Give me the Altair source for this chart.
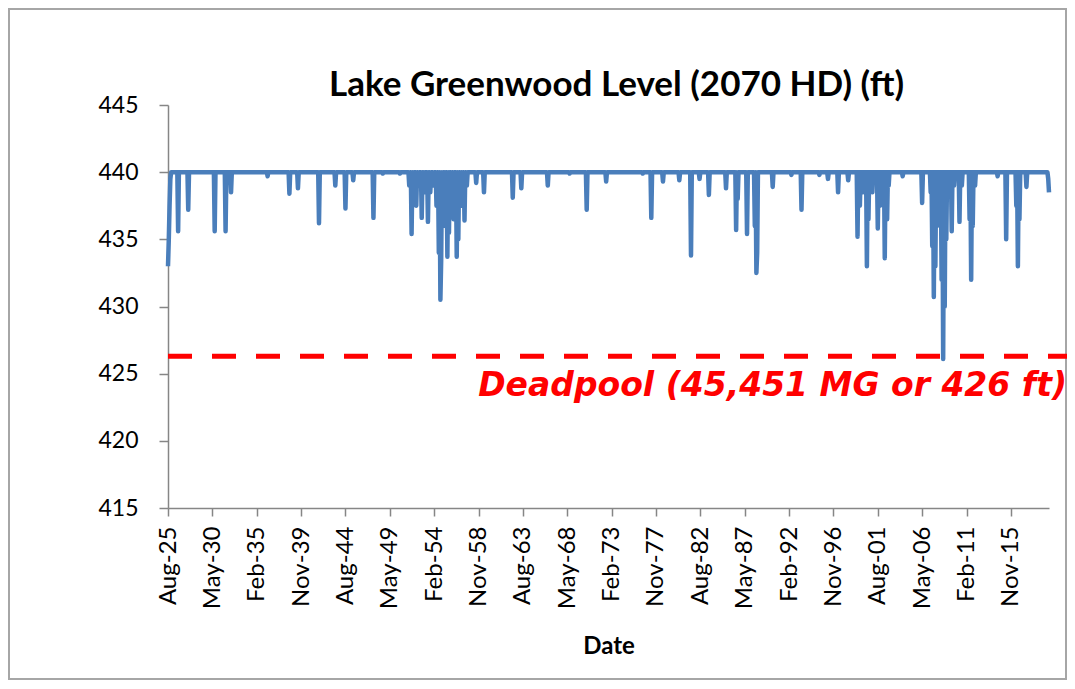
import altair as alt
import pandas as pd

# ---------------- data ----------------
start_month = "1925-08"
end_month = "2019-12"
full_pool = 440.0          # level when the lake is full (flat line)

# months where the level is below full pool, and their levels (ft)
low_months = [
    "1925-08", "1925-09", "1925-10", "1925-11", "1926-09", "1927-10",
    "1930-08", "1931-10", "1932-05", "1936-04", "1938-08", "1939-07",
    "1941-10", "1943-07", "1944-08", "1945-06", "1947-08", "1948-08",
    "1950-06", "1951-06", "1951-09", "1951-11", "1952-03", "1952-06",
    "1952-10", "1953-01", "1953-06", "1953-09", "1954-01", "1954-05",
    "1954-08", "1954-10", "1954-11", "1955-01", "1955-04", "1955-07",
    "1955-09", "1955-12", "1956-03", "1956-07", "1956-09", "1956-12",
    "1957-02", "1957-05", "1957-08", "1958-08", "1959-06", "1962-07",
    "1963-06", "1966-04", "1968-08", "1970-06", "1972-07", "1976-06",
    "1977-05", "1978-08", "1980-05", "1981-08", "1982-07", "1983-07",
    "1985-05", "1986-06", "1986-08", "1987-08", "1988-06", "1988-08",
    "1988-09", "1990-05", "1992-05", "1993-06", "1995-05", "1996-04",
    "1997-05", "1998-06", "1999-06", "1999-09", "2000-01", "2000-06",
    "2000-08", "2001-01", "2001-08", "2001-11", "2002-05", "2002-08",
    "2002-10", "2004-04", "2006-05", "2007-04", "2007-06", "2007-08",
    "2007-10", "2007-12", "2008-03", "2008-06", "2008-08", "2008-10",
    "2008-12", "2009-03", "2009-07", "2009-10", "2010-05", "2010-08",
    "2011-06", "2011-08", "2011-10", "2012-01", "2014-06", "2015-05",
    "2016-06", "2016-08", "2016-10", "2017-07", "2019-11", "2019-12",
]
low_levels = [
    433.0, 435.0, 437.5, 439.5, 435.6, 437.2,
    435.6, 435.6, 438.5, 439.7, 438.4, 438.8,
    436.2, 439.0, 437.3, 439.4, 436.6, 439.9,
    439.9, 439.0, 435.4, 438.0, 437.5, 439.0,
    436.6, 438.5, 436.3, 438.5, 439.0, 437.5,
    434.0, 430.5, 433.5, 438.0, 436.0, 433.7,
    435.5, 437.5, 436.5, 433.7, 435.0, 438.5,
    437.5, 436.4, 439.0, 439.2, 438.5, 438.1,
    438.8, 439.0, 439.9, 437.2, 439.3, 439.9,
    436.6, 439.3, 439.4, 433.8, 439.5, 438.3,
    438.8, 435.7, 438.0, 435.4, 436.0, 432.5,
    434.0, 438.9, 439.8, 437.2, 439.8, 439.5,
    438.5, 439.4, 435.2, 437.5, 438.5, 433.0,
    436.5, 438.5, 435.8, 437.5, 433.6, 436.5,
    439.0, 439.7, 437.7, 438.5, 434.5, 430.7,
    433.0, 436.0, 437.5, 432.0, 426.1, 430.0,
    435.0, 438.5, 435.6, 439.0, 436.3, 439.0,
    436.5, 432.0, 436.0, 439.0, 439.7, 435.0,
    437.5, 433.0, 436.5, 438.9, 439.5, 438.5,
]

tick_dates = [
    "1925-08-01", "1930-05-01", "1935-02-01", "1939-11-01", "1944-08-01",
    "1949-05-01", "1954-02-01", "1958-11-01", "1963-08-01", "1968-05-01",
    "1973-02-01", "1977-11-01", "1982-08-01", "1987-05-01", "1992-02-01",
    "1996-11-01", "2001-08-01", "2006-05-01", "2011-02-01", "2015-11-01",
]
y_ticks = [415, 420, 425, 430, 435, 440, 445]

deadpool_level = [426.3]
deadpool_label = ["Deadpool (45,451 MG or 426 ft)"]
chart_title = "Lake Greenwood Level (2070 HD) (ft)"

# ---------------- tables ----------------
months = pd.period_range(start_month, end_month, freq="M")
level_by_month = dict(zip(low_months, low_levels))
df = pd.DataFrame({
    "date": [p.strftime("%Y-%m-01") for p in months],
    "level": [level_by_month.get(p.strftime("%Y-%m"), full_pool) for p in months],
})


def ms(s):
    return int(pd.Timestamp(s, tz="UTC").value // 10**6)


tick_ms = [ms(d) for d in tick_dates]
x_domain = [ms(start_month + "-01"), ms(end_month + "-01")]

W, H = 881, 403
FONT = "Lato"

x_enc = alt.X(
    "date:T",
    scale=alt.Scale(type="utc", domain=x_domain),
    axis=alt.Axis(
        values=tick_ms, format="%b-%y", labelAngle=270, labelFontSize=24,
        labelPadding=10, tickSize=8, title="Date", titleFontSize=24,
        titleFontWeight="bold", titleBaseline="alphabetic", titleY=145,
        labelFlush=False, labelOverlap=False,
    ),
)
y_enc = alt.Y(
    "level:Q",
    scale=alt.Scale(domain=[415, 445], nice=False, zero=False),
    axis=alt.Axis(values=y_ticks, labelFontSize=23, tickSize=9,
                  labelPadding=21, title=None, labelFlush=False),
)

line = alt.Chart(df).mark_line(
    color="#4A7EBB", strokeWidth=4.5, strokeJoin="round"
).encode(x=x_enc, y=y_enc)

dp_df = pd.DataFrame({"level": deadpool_level, "label": deadpool_label})

rule = alt.Chart(dp_df).mark_rule(
    color="#FF0000", strokeWidth=5, strokeDash=[24, 20]
).encode(y=alt.Y("level:Q"), x=alt.value(0), x2=alt.value(904))

label = alt.Chart(dp_df).mark_text(
    align="right", baseline="alphabetic", font="DejaVu Sans", fontSize=33,
    fontStyle="italic", fontWeight="bold", color="#FF0000",
).encode(x=alt.value(899), y=alt.value(291), text="label:N")

frame = alt.Chart(dp_df).mark_rect(
    fillOpacity=0, stroke="#A6A6A6", strokeWidth=2
).encode(x=alt.value(-159), x2=alt.value(898), y=alt.value(-96), y2=alt.value(574))

chart = alt.layer(frame, line, rule, label).properties(
    width=W, height=H,
    autosize=alt.AutoSizeParams(type="none"),
    padding={"left": 160, "top": 97, "right": 18, "bottom": 172},
    title=alt.TitleParams(
        chart_title, font=FONT, fontSize=35, fontWeight="bold",
        anchor="middle", frame="group", offset=0, baseline="alphabetic",
        dx=8, dy=123, color="#000000",
    ),
).configure_view(stroke=None).configure_axis(
    grid=False, domainColor="#868686", tickColor="#868686",
    domainWidth=1.5, tickWidth=1.5, labelColor="#000000",
    titleColor="#000000", labelFont=FONT, titleFont=FONT,
)

chart.save("out.html", embed_options={"renderer": "svg", "actions": False})
